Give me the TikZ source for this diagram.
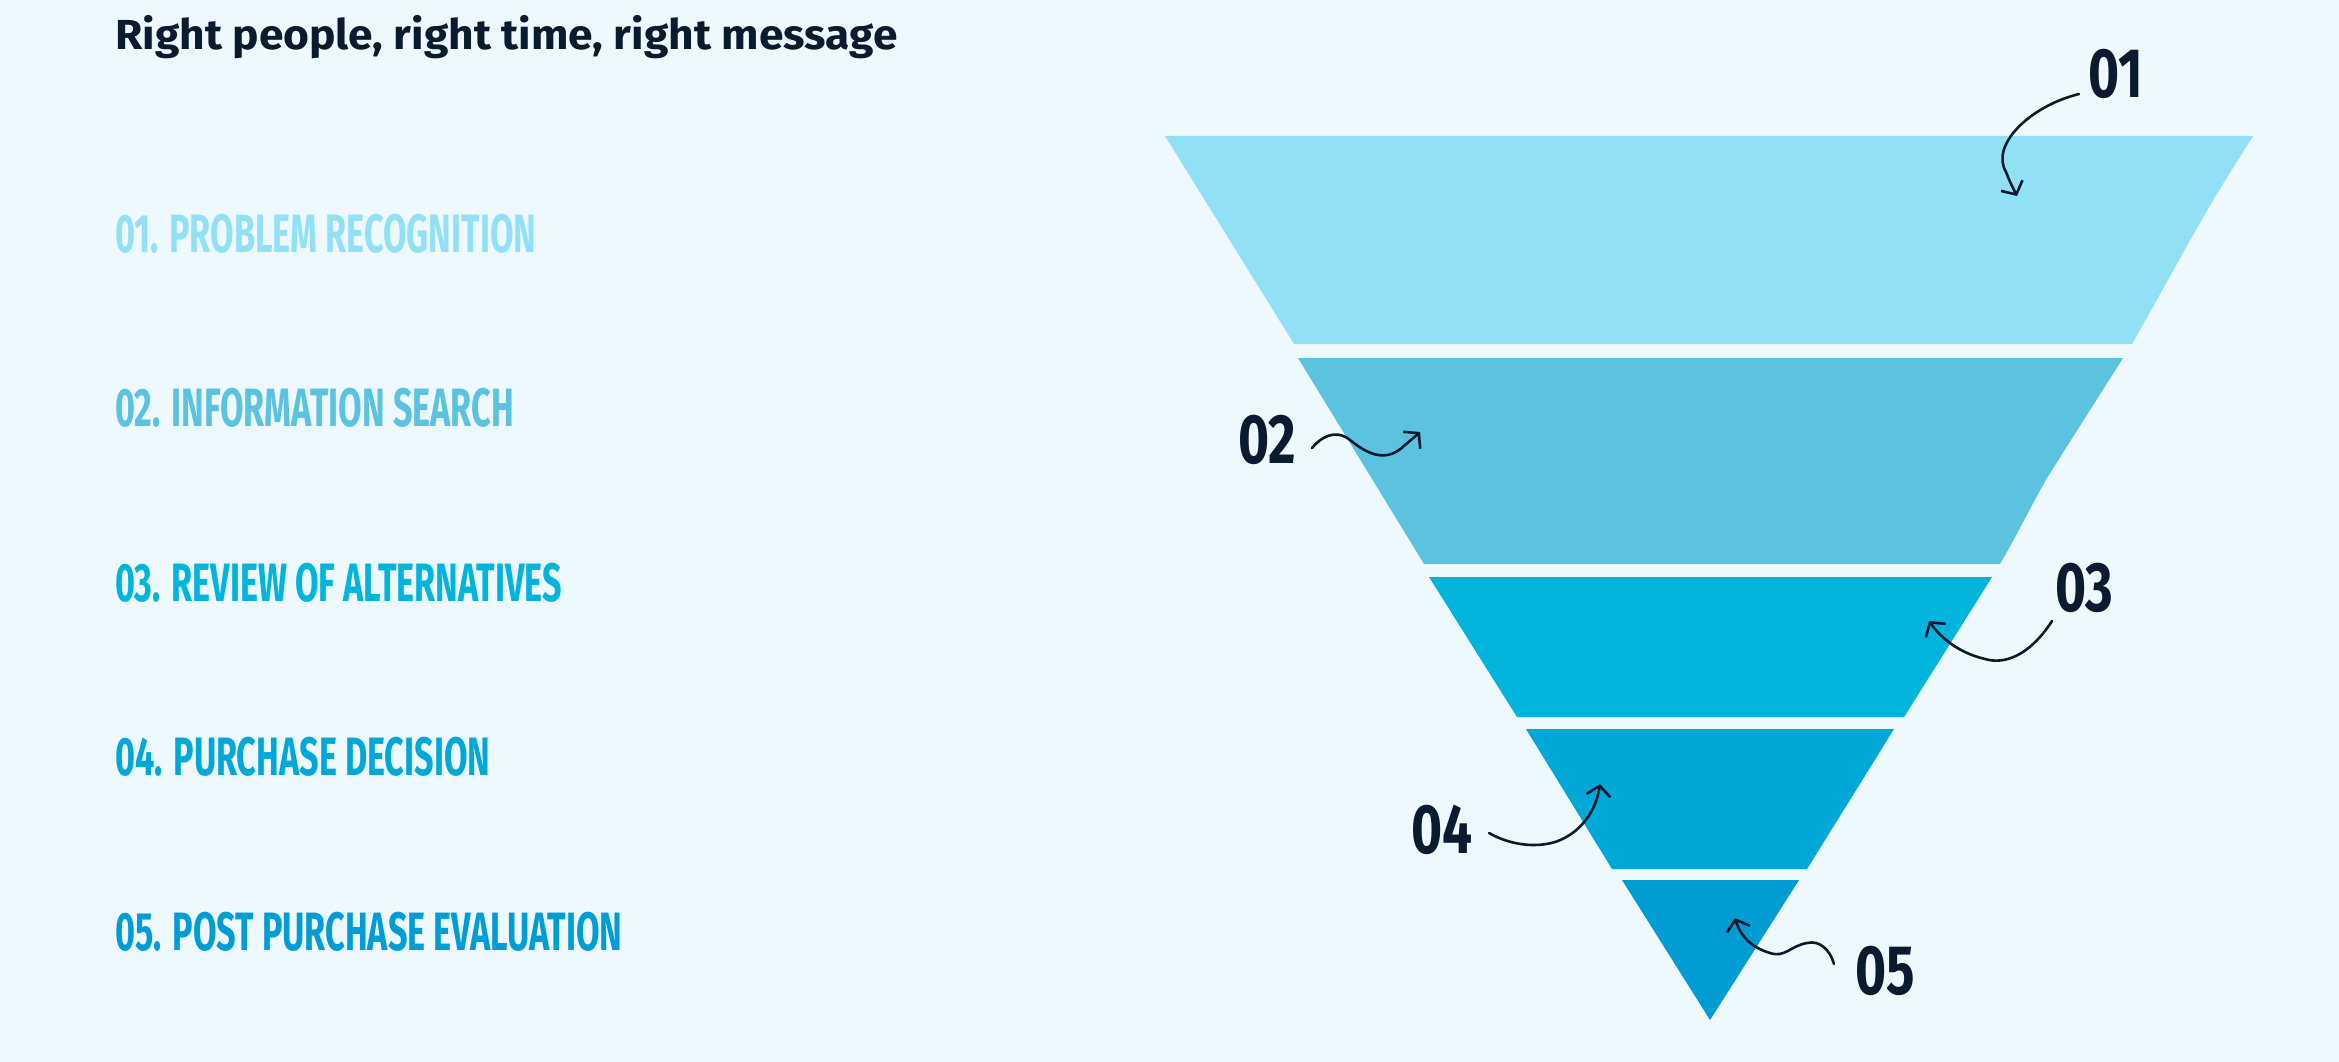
\documentclass[tikz,border=0pt]{standalone}
\usepackage{fontspec}
\setmainfont{Fira Sans}
\newfontfamily\titlefont{Fira Sans}[FakeStretch=1.055]
\newfontfamily\condfont{Fira Sans}[FakeStretch=0.633]
\newfontfamily\numfont{Fira Sans}[FakeStretch=0.76]
\usetikzlibrary{arrows.meta}
\definecolor{bgc}{HTML}{EEF9FF}
\definecolor{cA}{HTML}{92E0F5}
\definecolor{cB}{HTML}{5BC2DF}
\definecolor{cC}{HTML}{00B4DC}
\definecolor{cD}{HTML}{00A8D7}
\definecolor{cE}{HTML}{009CD4}
\definecolor{ink}{HTML}{0A1A2F}
\begin{document}
\begin{tikzpicture}[x=1pt,y=-1pt,
  titletext/.style={anchor=base west,inner sep=0,text=ink,font=\titlefont\fontsize{42}{48}\selectfont\bfseries},
  steplabel/.style={anchor=base west,inner sep=0,font=\condfont\fontsize{54}{60}\selectfont\bfseries},
  numlabel/.style={anchor=base west,inner sep=0,text=ink,font=\numfont\fontsize{70}{76}\selectfont\bfseries},
  handarrow/.style={draw=ink,line width=2.6,line cap=round,-{Straight Barb[length=10,width=24,line width=2.6]}}]
\fill[bgc] (0,0) rectangle (2339,1062);
\useasboundingbox (0,0) rectangle (2339,1062);
% funnel
\fill[cA] (1165,136) -- (2253,136) -- (2218,192) .. controls (2195,230) and (2160,295) .. (2132,344) -- (1294,344) -- cycle;
\fill[cB] (1298,358) -- (2123,358) -- (2052,470) .. controls (2035,497) and (2020,530) .. (2000,564) -- (1424,564) -- cycle;
\fill[cC] (1429,577) -- (1992,577) -- (1904,717) -- (1517,717) -- cycle;
\fill[cD] (1526,729) -- (1894,729) -- (1807,869) -- (1612,869) -- cycle;
\fill[cE] (1622,880) -- (1799,880) -- (1710,1020) -- cycle;
% title and list
\node[titletext] (title) at (115,50) {Right people, right time, right message};
\node[steplabel,text=cA] (s1) at (115,252) {01. PROBLEM RECOGNITION};
\node[steplabel,text=cB] (s2) at (115,426) {02. INFORMATION SEARCH};
\node[steplabel,text=cC] (s3) at (115,601) {03. REVIEW OF ALTERNATIVES};
\node[steplabel,text=cD] (s4) at (115,775) {04. PURCHASE DECISION};
\node[steplabel,text=cE] (s5) at (115,950) {05. POST PURCHASE EVALUATION};
% numbers
\node[numlabel] (n1) at (2088,98) {01};
\node[numlabel] (n2) at (1238,463) {02};
\node[numlabel] (n3) at (2055,611) {03};
\node[numlabel] (n4) at (1411,853) {04};
\node[numlabel] (n5) at (1855,994) {05};
% arrows
\coordinate (a1s) at (2079,94);  \coordinate (a1e) at (2017,196);
\coordinate (a2s) at (1312,448); \coordinate (a2e) at (1420,432);
\coordinate (a3s) at (2052,621); \coordinate (a3e) at (1929,621);
\coordinate (a4s) at (1489,833); \coordinate (a4e) at (1600,784);
\coordinate (a5s) at (1834,964); \coordinate (a5e) at (1735,918);
\draw[handarrow] (a1s) .. controls (2030,106) and (1990,145) .. (2006,172) .. controls (2010,182) .. (a1e);
\draw[handarrow] (a2s) .. controls (1320,438) and (1335,428) .. (1350,440) .. controls (1365,452) and (1385,465) .. (1405,445) .. controls (1412,440) .. (a2e);
\draw[handarrow] (a3s) .. controls (2030,655) and (2005,665) .. (1985,659) .. controls (1955,652) and (1938,634) .. (a3e);
\draw[handarrow] (a4s) .. controls (1510,845) and (1535,848) .. (1555,842) .. controls (1585,832) and (1597,805) .. (a4e);
\draw[handarrow] (a5s) .. controls (1830,950) and (1820,940) .. (1807,943) .. controls (1790,946) and (1785,958) .. (1770,953) .. controls (1750,947) and (1740,935) .. (a5e);
\end{tikzpicture}
\end{document}
